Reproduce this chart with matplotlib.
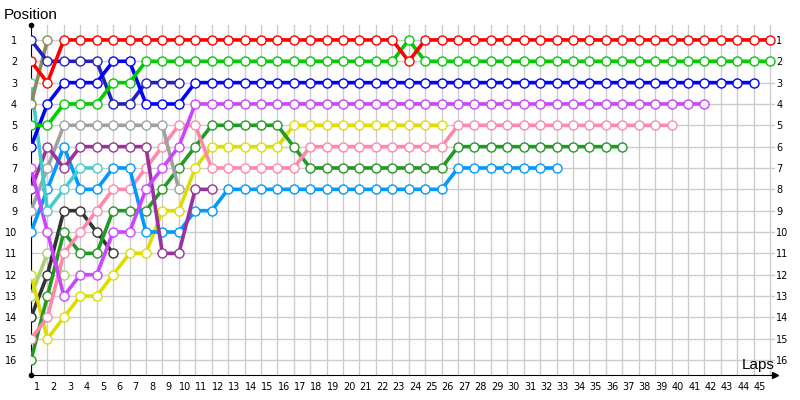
import matplotlib.pyplot as plt

# x index 0 = grid position, then one point per lap
laps = list(range(1, 46))
positions = list(range(1, 17))

red = [2, 3] + [1] * 21 + [2] + [1] * 22
green = [5, 5, 4, 4, 4, 3, 3] + [2] * 16 + [1] + [2] * 22
blue = [6, 4, 3, 3, 3, 2, 2, 4, 4, 4] + [3] * 35
navy = [1, 2, 2, 2, 2, 4, 4, 3, 3, 3]
olive = [4, 1]
cyan = [3, 9, 8, 7, 7]
violet = [7, 10, 13, 12, 12, 10, 10, 8, 7, 6] + [4] * 32
purple = [8, 6, 7, 6, 6, 6, 6, 6, 11, 11, 8, 8]
grey = [9, 7, 5, 5, 5, 5, 5, 5, 5, 8]
skyblue = [10, 8, 6, 8, 8, 7, 7, 10, 10, 10, 9, 9] + [8] * 14 + [7] * 7
pink = [15, 14, 11, 10, 9, 8, 8, 7, 6, 5, 5] + [7] * 6 + [6] * 9 + [5] * 14
darkgreen = [16, 13, 10, 11, 11, 9, 9, 9, 8, 7, 6] + [5] * 5 + [6] + [7] * 9 + [6] * 11
yellow = [12, 15, 14, 13, 13, 12, 11, 11, 9, 9, 7] + [6] * 5 + [5] * 10
black = [14, 12, 9, 9, 10, 11]
lightgreen = [13, 11, 12]

series = [
    (lightgreen, '#a8d070'),
    (black, '#333333'),
    (yellow, '#dddd00'),
    (darkgreen, '#229922'),
    (pink, '#ff88aa'),
    (skyblue, '#0099ff'),
    (grey, '#a0a0a0'),
    (purple, '#993399'),
    (violet, '#cc44ff'),
    (cyan, '#44cccc'),
    (olive, '#8c8a5a'),
    (navy, '#2222bb'),
    (blue, '#0000ff'),
    (green, '#00cc00'),
    (red, '#ff0000'),
]

fig = plt.figure(figsize=(8, 4), dpi=100)
ax = fig.add_axes([31 / 800, 25 / 400, 744 / 800, 350 / 400])

for data, col in series:
    ax.plot(range(len(data)), data, color=col, lw=2.6, marker='o', ms=6.5,
            mfc='white', mec=col, mew=1, zorder=3)

ax.set_xlim(0, 45.3)
ax.set_ylim(16.7, 0.3)

ax.set_xticks(range(46))
ax.set_xticklabels([])
ax.set_xticks([k - 1 + 0.38 for k in laps], minor=True)
ax.set_xticklabels([str(k) for k in laps], minor=True, fontsize=7)
ax.set_yticks(positions)
ax.set_yticklabels([str(p) for p in positions], fontsize=7)
ax.tick_params(axis='x', which='both', length=0, pad=5)
ax.tick_params(axis='y', length=0, pad=10)
ax.grid(True, which='major', color='#cccccc', lw=1, zorder=0)

ax.spines['top'].set_visible(False)
ax.spines['right'].set_visible(False)

# position labels on the right side
ax2 = ax.twinx()
ax2.set_ylim(16.7, 0.3)
ax2.set_yticks(positions)
ax2.set_yticklabels([str(p) for p in positions], fontsize=7)
ax2.tick_params(axis='y', length=0, pad=1)
for s in ax2.spines.values():
    s.set_visible(False)

ax.plot(0, 1, 'ok', ms=3, transform=ax.transAxes, clip_on=False)
ax.plot(0, 0, 'ok', ms=3, transform=ax.transAxes, clip_on=False)
ax.plot(1, 0, '>k', ms=5, transform=ax.transAxes, clip_on=False)

fig.text(4 / 800, 1 - 15 / 400, 'Position', fontsize=11, family='Liberation Sans', va='center')
fig.text(775 / 800, 1 - 365 / 400, 'Laps', fontsize=11, family='Liberation Sans', va='center', ha='right')

fig.savefig('out.png')
